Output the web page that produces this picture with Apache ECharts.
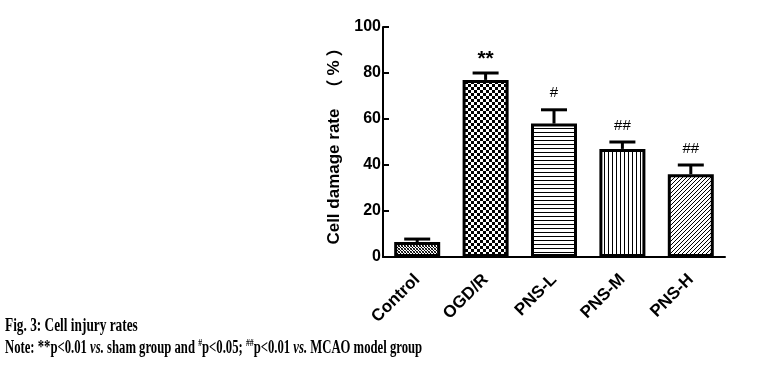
<!DOCTYPE html>
<html><head><meta charset="utf-8">
<script src="https://cdn.jsdelivr.net/npm/echarts@6/dist/echarts.min.js"></script>
<style>html,body{margin:0;padding:0;background:#fff}#c{width:764px;height:370px}</style>
</head><body><div id="c"></div>
<script>
const categories = ['Control', 'OGD/R', 'PNS-L', 'PNS-M', 'PNS-H'];
const values = [6.5, 77, 58, 47, 36];
const errors = [1.3, 3, 6, 3, 4];
const marks = ['', '**', '#', '##', '##'];
const yMin = 0, yMax = 100, yStep = 20;

function tile(w, h, draw) {
  const c = document.createElement('canvas');
  c.width = w; c.height = h;
  const g = c.getContext('2d');
  g.fillStyle = '#fff'; g.fillRect(0, 0, w, h);
  g.fillStyle = '#000'; g.strokeStyle = '#000';
  draw(g);
  return { image: c, repeat: 'repeat' };
}
const patterns = [
  tile(3, 3, g => { g.fillRect(0, 0, 1, 1); g.fillRect(1, 1, 1, 1); g.fillRect(2, 2, 1, 1); g.fillStyle='#555'; g.fillRect(2,0,1,1); g.fillRect(0,2,1,1);}),
  tile(6, 6, g => { g.fillRect(0, 0, 3, 3); g.fillRect(3, 3, 3, 3); }),
  tile(4, 4, g => { g.fillRect(0, 0, 4, 1); }),
  tile(4, 4, g => { g.fillRect(0, 0, 1, 4); }),
  tile(4, 4, g => { g.lineWidth = 1; g.beginPath(); for (let k = -4; k <= 8; k += 4) { g.moveTo(k, 4); g.lineTo(k + 4, 0); } g.stroke(); })
];

const chart = echarts.init(document.getElementById('c'));
chart.setOption({
  animation: false,
  grid: { left: 383, right: 39, top: 27, bottom: 113 },
  xAxis: {
    type: 'category', data: categories,
    axisLine: { lineStyle: { color: '#000', width: 2 } },
    axisTick: { inside: true, alignWithLabel: true, length: 4, lineStyle: { color: '#000', width: 2 } },
    axisLabel: { rotate: 45, color: '#000', fontWeight: 'bold', fontSize: 17, fontFamily: 'Liberation Sans, Arial', margin: 20 }
  },
  yAxis: {
    type: 'value', min: yMin, max: yMax, interval: yStep,
    name: '{a|Cell damage rate}{b|（}{c|%}{d|）}', nameLocation: 'middle', nameGap: 40,
    nameTextStyle: {
      color: '#000', fontWeight: 'bold', fontSize: 17, fontFamily: 'Liberation Sans, Arial',
      rich: {
        a: { color: '#000', fontWeight: 'bold', fontSize: 17, fontFamily: 'Liberation Sans, Arial' },
        b: { color: '#000', fontWeight: 'bold', fontSize: 17, fontFamily: 'Noto Sans CJK SC', padding: [0, 0, 0, 12] },
        c: { color: '#000', fontWeight: 'bold', fontSize: 17, fontFamily: 'Liberation Sans, Arial', padding: [0, 4, 0, 4] },
        d: { color: '#000', fontWeight: 'bold', fontSize: 17, fontFamily: 'Noto Sans CJK SC' }
      }
    },
    splitLine: { show: false },
    axisLine: { show: true, lineStyle: { color: '#000', width: 2 } },
    axisTick: { show: true, inside: true, length: 6, lineStyle: { color: '#000', width: 2 } },
    axisLabel: { color: '#000', fontWeight: 'bold', fontSize: 16, fontFamily: 'Liberation Sans, Arial', margin: 2 }
  },
  series: [
    {
      type: 'custom', z: 1,
      data: categories.map((c, i) => [i, values[i], errors[i]]),
      renderItem: function (params, api) {
        const i = api.value(0), v = api.value(1), e = api.value(2);
        const top = api.coord([i, v + e]);
        const base = api.coord([i, v]);
        const star = marks[i].indexOf('*') >= 0;
        return {
          type: 'group', children: [
            { type: 'line', shape: { x1: top[0], y1: base[1], x2: top[0], y2: top[1] }, style: { stroke: '#000', lineWidth: 3 } },
            { type: 'line', shape: { x1: top[0] - 13, y1: top[1], x2: top[0] + 13, y2: top[1] }, style: { stroke: '#000', lineWidth: 3 } },
            { type: 'text', style: { text: marks[i], x: top[0], y: star ? top[1] - 3 : top[1] - 9, align: 'center', verticalAlign: 'bottom', fill: '#000', font: star ? 'bold 21px Liberation Sans, Arial' : '15px Liberation Sans, Arial' } }
          ]
        };
      }
    },
    {
      type: 'bar', z: 2, barWidth: 46,
      data: values.map((v, i) => ({ value: v, itemStyle: { color: patterns[i] } })),
      itemStyle: { borderColor: '#000', borderWidth: 3 }
    }
  ],
  graphic: [
    {
      type: 'text', left: 5, top: 317, scaleX: 0.74, originX: 0,
      style: { text: 'Fig. 3: Cell injury rates', fill: '#000', font: 'bold 18px Liberation Serif, Times New Roman' }
    },
    {
      type: 'text', left: 5, top: 338, scaleX: 0.705,
      style: {
        text: 'Note: **p<0.01 {i|vs.} sham group and {s|#}p<0.05; {s|##}p<0.01 {i|vs.} MCAO model group',
        fill: '#000', font: 'bold 18px Liberation Serif, Times New Roman',
        rich: {
          i: { fontStyle: 'italic', fontWeight: 'bold', fontSize: 18, fontFamily: 'Liberation Serif' },
          s: { fontSize: 11, fontWeight: 'bold', fontFamily: 'Liberation Serif', padding: [0, 0, 9, 0] }
        }
      }
    }
  ]
});
</script></body></html>
